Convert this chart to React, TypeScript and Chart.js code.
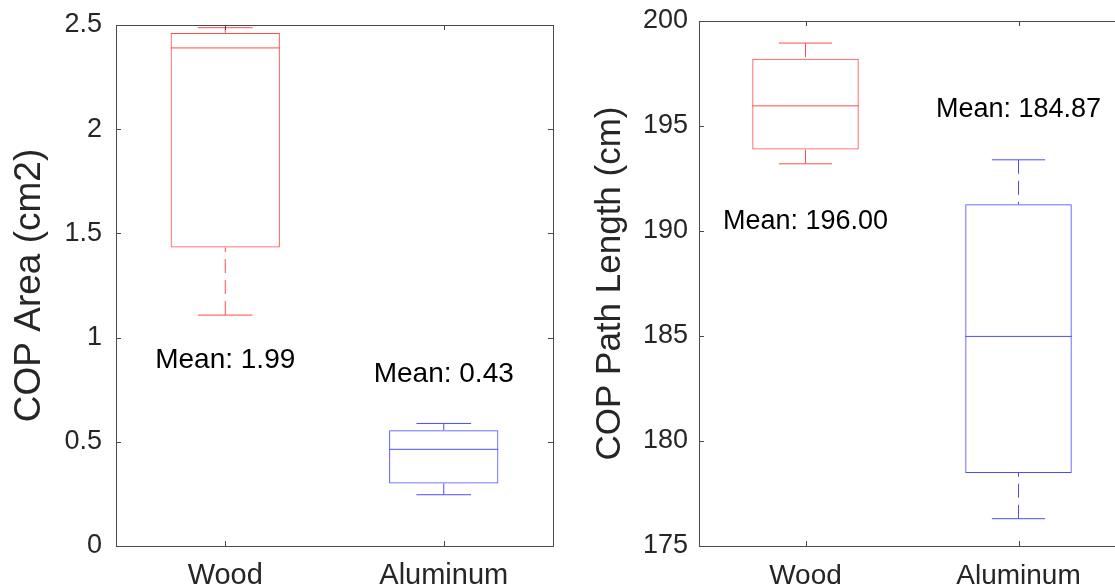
import React, { useEffect, useRef } from "react";
import { Chart, registerables } from "chart.js";

Chart.register(...registerables);

const FONT = '"Liberation Sans", Arial, Helvetica, sans-serif';

const categories = ["Wood", "Aluminum"];

// Panel 1: COP Area (cm2)
const areaLowerWhisker = [1.108, 0.246];
const areaQ1 = [1.432, 0.3];
const areaMedian = [2.39, 0.464];
const areaQ3 = [2.462, 0.556];
const areaUpperWhisker = [2.487, 0.588];
const areaMeans = [1.99, 0.43];
const areaMeanLabelAt = [0.89, 0.825];
const areaTicks = [0, 0.5, 1, 1.5, 2, 2.5];

// Panel 2: COP Path Length (cm)
const pathLowerWhisker = [193.2, 176.3];
const pathQ1 = [193.88, 178.48];
const pathMedian = [195.96, 184.98];
const pathQ3 = [198.2, 191.27];
const pathUpperWhisker = [198.95, 193.39];
const pathMeans = [196.0, 184.87];
const pathMeanLabelAt = [190.45, 195.8];
const pathTicks = [175, 180, 185, 190, 195, 200];

const boxColors = ["#ff4d4d", "#4d4dff"];
const axisColor = "#262626";
const frameColor = "#4a4a4a";

const boxExtras = {
  id: "boxExtras",
  afterDatasetsDraw(chart: any, _args: any, opts: any) {
    const { ctx } = chart;
    const x = chart.scales.x;
    const y = chart.scales.y;
    const unit = x.getPixelForValue(1) - x.getPixelForValue(0);
    ctx.save();
    ctx.lineWidth = 1;
    opts.median.forEach((_: number, i: number) => {
      const cx = x.getPixelForValue(i);
      const boxHalf = unit * 0.25;
      const capHalf = unit * 0.125;
      ctx.strokeStyle = opts.colors[i];
      ctx.setLineDash([]);
      const ym = y.getPixelForValue(opts.median[i]);
      ctx.beginPath();
      ctx.moveTo(cx - boxHalf, ym);
      ctx.lineTo(cx + boxHalf, ym);
      ctx.stroke();
      const yu = y.getPixelForValue(opts.upper[i]);
      const yl = y.getPixelForValue(opts.lower[i]);
      ctx.beginPath();
      ctx.moveTo(cx - capHalf, yu);
      ctx.lineTo(cx + capHalf, yu);
      ctx.moveTo(cx - capHalf, yl);
      ctx.lineTo(cx + capHalf, yl);
      ctx.stroke();
      ctx.setLineDash([14, 7]);
      const y3 = y.getPixelForValue(opts.q3[i]);
      const y1 = y.getPixelForValue(opts.q1[i]);
      ctx.beginPath();
      ctx.moveTo(cx, yu);
      ctx.lineTo(cx, y3);
      ctx.stroke();
      ctx.beginPath();
      ctx.moveTo(cx, yl);
      ctx.lineTo(cx, y1);
      ctx.stroke();
    });
    ctx.restore();
  },
  afterDraw(chart: any, _args: any, opts: any) {
    const { ctx, chartArea } = chart;
    const x = chart.scales.x;
    const y = chart.scales.y;
    const { left, right, top, bottom } = chartArea;
    ctx.save();
    ctx.setLineDash([]);
    ctx.strokeStyle = frameColor;
    ctx.lineWidth = 1;
    ctx.strokeRect(Math.round(left) + 0.5, Math.round(top) + 0.5, Math.round(right - left), Math.round(bottom - top));
    const tl = 5;
    ctx.beginPath();
    opts.ticks.forEach((v: number) => {
      const py = Math.round(y.getPixelForValue(v)) + 0.5;
      ctx.moveTo(left, py);
      ctx.lineTo(left + tl, py);
      ctx.moveTo(right, py);
      ctx.lineTo(right - tl, py);
    });
    categories.forEach((_c, i) => {
      const px = Math.round(x.getPixelForValue(i)) + 0.5;
      ctx.moveTo(px, bottom);
      ctx.lineTo(px, bottom - tl);
      ctx.moveTo(px, top);
      ctx.lineTo(px, top + tl);
    });
    ctx.stroke();
    ctx.fillStyle = "#000000";
    ctx.font = `${opts.meanFontSize}px ${FONT}`;
    ctx.textAlign = "center";
    ctx.textBaseline = "middle";
    opts.means.forEach((m: number, i: number) => {
      ctx.fillText(`Mean: ${m.toFixed(2)}`, x.getPixelForValue(i), y.getPixelForValue(opts.meanAt[i]));
    });
    ctx.restore();
  },
};

function makeConfig(p: any) {
  return {
    type: "bar",
    data: {
      labels: categories,
      datasets: [
        {
          data: categories.map((_c, i) => [p.q1[i], p.q3[i]]),
          backgroundColor: "rgba(0,0,0,0)",
          borderColor: boxColors,
          borderWidth: 1,
          borderSkipped: false,
          barPercentage: 0.5,
          categoryPercentage: 1,
        },
      ],
    },
    options: {
      responsive: false,
      animation: false,
      events: [],
      devicePixelRatio: 1,
      layout: { padding: { top: p.padTop, right: p.padRight, left: 0, bottom: 0 } },
      plugins: {
        legend: { display: false },
        tooltip: { enabled: false },
        boxExtras: {
          lower: p.lower,
          q1: p.q1,
          median: p.median,
          q3: p.q3,
          upper: p.upper,
          means: p.means,
          meanAt: p.meanAt,
          colors: boxColors,
          ticks: p.ticks,
          meanFontSize: p.meanFontSize,
        },
      },
      scales: {
        x: {
          type: "category",
          offset: true,
          grid: { display: false },
          border: { display: false },
          ticks: {
            color: axisColor,
            padding: 5,
            font: { family: FONT, size: p.xTickFontSize, lineHeight: 1.2 },
            maxRotation: 0,
          },
          afterFit: (s: any) => {
            s.height = p.xAxisHeight;
          },
        },
        y: {
          min: p.ticks[0],
          max: p.ticks[p.ticks.length - 1],
          grid: {
            display: true,
            drawOnChartArea: false,
            drawTicks: true,
            tickLength: p.yTickGap,
            color: "rgba(0,0,0,0)",
          },
          border: { display: false },
          afterBuildTicks: (s: any) => {
            s.ticks = p.ticks.map((v: number) => ({ value: v }));
          },
          ticks: {
            color: axisColor,
            padding: 0,
            font: { family: FONT, size: p.tickFontSize, lineHeight: 1.2 },
            callback: (v: any) => String(v),
          },
          title: {
            display: true,
            text: p.title,
            color: axisColor,
            font: { family: FONT, size: p.titleFontSize, lineHeight: 1.2 },
            padding: { top: p.titlePad, bottom: 0 },
          },
          afterFit: (s: any) => {
            s.width = p.yAxisWidth;
          },
        },
      },
    },
    plugins: [boxExtras],
  };
}

const leftPanel = {
  lower: areaLowerWhisker,
  q1: areaQ1,
  median: areaMedian,
  q3: areaQ3,
  upper: areaUpperWhisker,
  means: areaMeans,
  meanAt: areaMeanLabelAt,
  ticks: areaTicks,
  title: "COP Area (cm2)",
  titleFontSize: 37,
  titlePad: 8,
  padTop: 25,
  padRight: 27,
  yAxisWidth: 116,
  xAxisHeight: 39,
  yTickGap: 14,
  tickFontSize: 27,
  xTickFontSize: 29,
  meanFontSize: 28,
};

const rightPanel = {
  lower: pathLowerWhisker,
  q1: pathQ1,
  median: pathMedian,
  q3: pathQ3,
  upper: pathUpperWhisker,
  means: pathMeans,
  meanAt: pathMeanLabelAt,
  ticks: pathTicks,
  title: "COP Path Length (cm)",
  titleFontSize: 35,
  titlePad: 9,
  padTop: 21,
  padRight: 15,
  yAxisWidth: 119,
  xAxisHeight: 39,
  yTickGap: 11,
  tickFontSize: 27,
  xTickFontSize: 28,
  meanFontSize: 27,
};

export default function App() {
  const leftRef = useRef<HTMLCanvasElement | null>(null);
  const rightRef = useRef<HTMLCanvasElement | null>(null);

  useEffect(() => {
    const c1 = new Chart(leftRef.current as HTMLCanvasElement, makeConfig(leftPanel) as any);
    const c2 = new Chart(rightRef.current as HTMLCanvasElement, makeConfig(rightPanel) as any);
    return () => {
      c1.destroy();
      c2.destroy();
    };
  }, []);

  return (
    <div
      style={{
        position: "absolute",
        left: 0,
        top: 0,
        width: 1115,
        height: 585,
        overflow: "hidden",
        background: "#ffffff",
      }}
    >
      <canvas
        ref={leftRef}
        width={580}
        height={585}
        style={{ position: "absolute", left: 0, top: 0, width: 580, height: 585 }}
      />
      <canvas
        ref={rightRef}
        width={560}
        height={585}
        style={{ position: "absolute", left: 580, top: 0, width: 560, height: 585 }}
      />
    </div>
  );
}
